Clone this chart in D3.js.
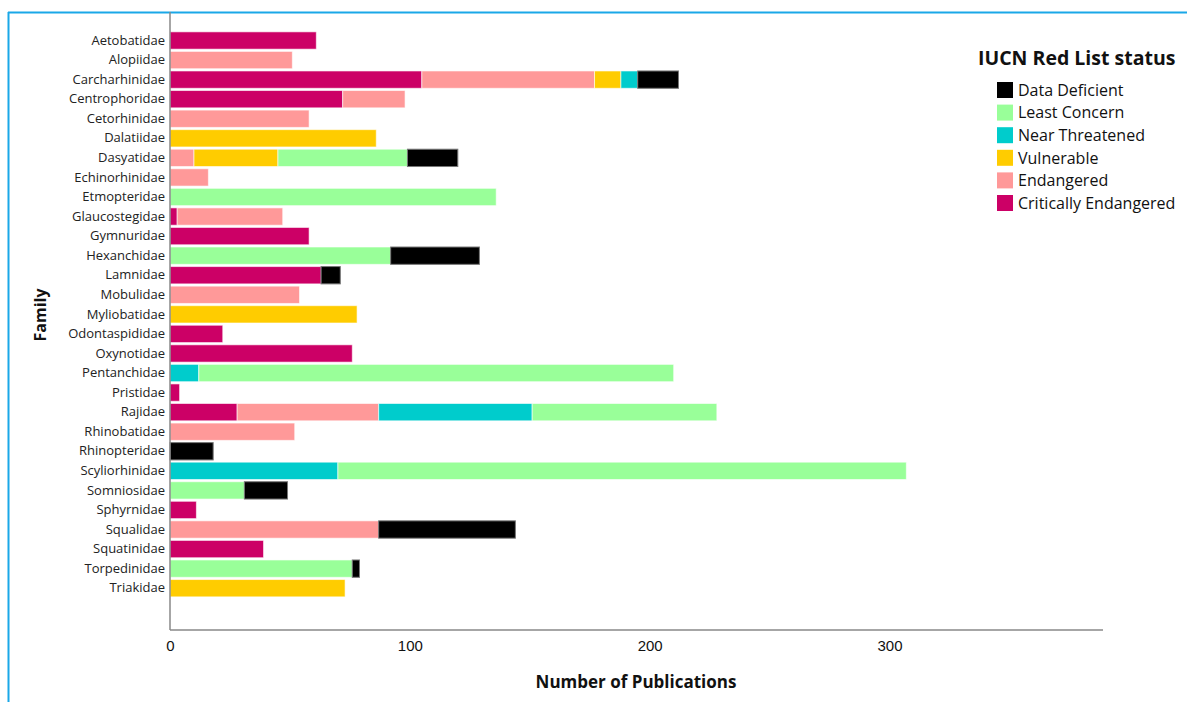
<!DOCTYPE html>
<html><head><meta charset="utf-8">
<script src="https://cdn.jsdelivr.net/npm/d3@7"></script>
<style>body{margin:0;background:#fff}svg{display:block}</style>
</head><body>
<svg id="c" width="1187" height="702"></svg>
<script>
const families = ["Aetobatidae","Alopiidae","Carcharhinidae","Centrophoridae","Cetorhinidae","Dalatiidae","Dasyatidae","Echinorhinidae","Etmopteridae","Glaucostegidae","Gymnuridae","Hexanchidae","Lamnidae","Mobulidae","Myliobatidae","Odontaspididae","Oxynotidae","Pentanchidae","Pristidae","Rajidae","Rhinobatidae","Rhinopteridae","Scyliorhinidae","Somniosidae","Sphyrnidae","Squalidae","Squatinidae","Torpedinidae","Triakidae"];
// stacking order from left: CE, EN, VU, NT, LC, DD
const statuses = ["Critically Endangered","Endangered","Vulnerable","Near Threatened","Least Concern","Data Deficient"];
const colors = ["#cc0066","#ff9999","#ffcc00","#00cccc","#99ff99","#000000"];
const criticallyEndangered = [61,0,105,72,0,0,0,0,0,3,58,0,63,0,0,22,76,0,4,28,0,0,0,0,11,0,39,0,0];
const endangered          = [0,51,72,26,58,0,10,16,0,44,0,0,0,54,0,0,0,0,0,59,52,0,0,0,0,87,0,0,0];
const vulnerable          = [0,0,11,0,0,86,35,0,0,0,0,0,0,0,78,0,0,0,0,0,0,0,0,0,0,0,0,0,73];
const nearThreatened      = [0,0,7,0,0,0,0,0,0,0,0,0,0,0,0,0,0,12,0,64,0,0,70,0,0,0,0,0,0];
const leastConcern        = [0,0,0,0,0,0,54,0,136,0,0,92,0,0,0,0,0,198,0,77,0,0,237,31,0,0,0,76,0];
const dataDeficient       = [0,0,17,0,0,0,21,0,0,0,0,37,8,0,0,0,0,0,0,0,0,18,0,18,0,57,0,3,0];
const xTicks = [0,100,200,300];
const xMax = 389;
const legendOrder = ["Data Deficient","Least Concern","Near Threatened","Vulnerable","Endangered","Critically Endangered"];

const seriesVals = [criticallyEndangered,endangered,vulnerable,nearThreatened,leastConcern,dataDeficient];
const rows = families.map((f,i)=>{const r={family:f}; statuses.forEach((s,j)=>r[s]=seriesVals[j][i]); return r;});
const stack = d3.stack().keys(statuses)(rows);
const color = d3.scaleOrdinal().domain(statuses).range(colors);

const svg = d3.select("#c");
const X0=170, X1=1103, YTOP=12, YAX=630;
const x = d3.scaleLinear().domain([0,xMax]).range([X0,X1]);
const y = d3.scaleBand().domain(families).range([29.6,599.1]).paddingInner(0.115).paddingOuter(0.115);

// frame
svg.append("line").attr("x1",8.5).attr("x2",8.5).attr("y1",12).attr("y2",702).attr("stroke","#1aa8e8").attr("stroke-width",2);
svg.append("line").attr("x1",8).attr("x2",1187).attr("y1",12.5).attr("y2",12.5).attr("stroke","#1aa8e8").attr("stroke-width",2);

// bars
svg.append("g").selectAll("g").data(stack).join("g").attr("fill",d=>color(d.key))
  .attr("stroke",d=>d.key==="Data Deficient"?"#777":"rgba(255,255,255,0.6)").attr("stroke-width",1)
  .selectAll("rect").data(d=>d.filter(s=>s[1]-s[0]>0)).join("rect")
  .attr("x",d=>x(d[0])).attr("width",d=>x(d[1])-x(d[0]))
  .attr("y",d=>y(d.data.family)).attr("height",y.bandwidth());

// axes
svg.append("line").attr("x1",X0).attr("x2",X0).attr("y1",YTOP).attr("y2",YAX).attr("stroke","#888").attr("stroke-width",1.5);
svg.append("line").attr("x1",X0).attr("x2",X1).attr("y1",YAX).attr("y2",YAX).attr("stroke","#888").attr("stroke-width",1.5);

const xa = svg.append("g").attr("transform",`translate(0,${YAX})`).call(d3.axisBottom(x).tickValues(xTicks).tickSize(0).tickPadding(10));
xa.select(".domain").remove();
xa.selectAll("text").attr("font-family","Liberation Sans, Arial, sans-serif").attr("font-size",15).attr("fill","#111");

const ya = svg.append("g").attr("transform",`translate(${X0},0)`).call(d3.axisLeft(y).tickSize(0).tickPadding(5));
ya.select(".domain").remove();
ya.selectAll("text").attr("font-family","Open Sans, sans-serif").attr("font-size",13).attr("fill","#222");

// titles
svg.append("text").attr("x",636).attr("y",688).attr("text-anchor","middle")
  .attr("font-family","Open Sans, sans-serif").attr("font-weight","bold").attr("font-size",17).attr("fill","#111").text("Number of Publications");
svg.append("text").attr("transform","translate(46,315) rotate(-90)").attr("text-anchor","middle")
  .attr("font-family","Open Sans, sans-serif").attr("font-weight","bold").attr("font-size",16).attr("fill","#111").text("Family");

// legend
const lg = svg.append("g");
lg.append("text").attr("x",978).attr("y",65).attr("font-family","Open Sans, sans-serif").attr("font-weight","bold").attr("font-size",19.5).attr("fill","#111").text("IUCN Red List status");
const li = lg.selectAll("g.it").data(legendOrder).join("g").attr("class","it")
  .attr("transform",(d,i)=>`translate(997,${82+i*22.6})`);
li.append("rect").attr("width",16).attr("height",16).attr("fill",d=>color(d));
li.append("text").attr("x",21).attr("y",8).attr("dy","0.36em").attr("font-family","Open Sans, sans-serif").attr("font-size",16).attr("fill","#111").text(d=>d);
</script>
</body></html>
